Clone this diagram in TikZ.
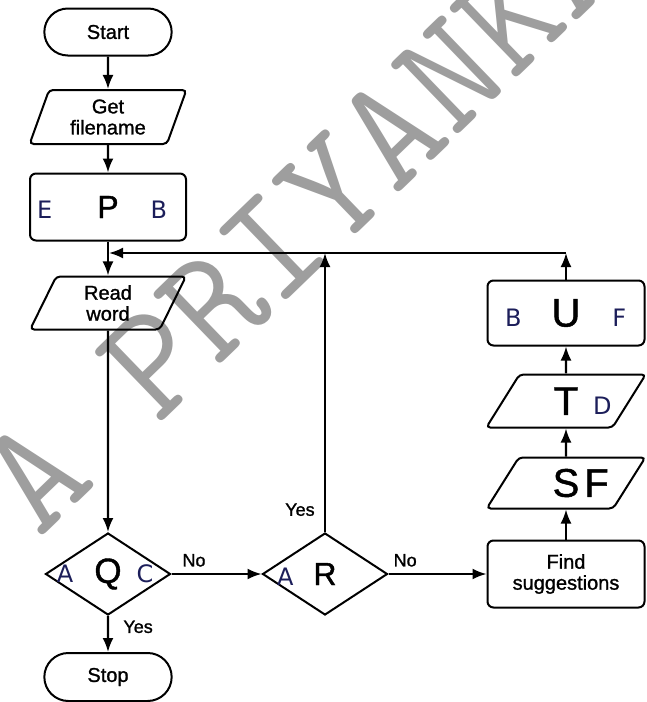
\documentclass[tikz,border=0pt]{standalone}
\usepackage{fontspec}
\setmainfont{Liberation Sans}[FakeBold=1.2]
\newfontfamily\hwfont{DejaVu Sans}
\usetikzlibrary{arrows.meta,shapes.geometric,shapes.misc}
\definecolor{hwink}{RGB}{28,30,90}
\definecolor{wmgray}{RGB}{158,158,158}
\newcommand{\hw}{\hwfont\fontsize{24}{24}\selectfont\color{hwink}}
\newcommand{\lmark}[2]{\makebox[0pt][r]{{\hw #1}\hspace{#2}}}
\newcommand{\rmark}[2]{\makebox[0pt][l]{\hspace{#2}{\hw #1}}}

\begin{document}
\begin{tikzpicture}[x=1pt,y=-1pt,
    every node/.style={font=\fontsize{20}{21}\selectfont,align=center},
    arr/.style={line width=2.1pt,-{Latex[length=14pt,width=11pt]}},
    term/.style={draw,line width=2pt,rounded rectangle,minimum width=134pt,minimum height=47pt},
    io/.style={draw,line width=2pt,trapezium,trapezium left angle=72,trapezium right angle=108,
        trapezium stretches=true,rounded corners=4pt,minimum width=157pt,minimum height=54pt},
    proc/.style={draw,line width=2pt,rectangle,rounded corners=6pt,minimum width=156pt,minimum height=66pt},
    dec/.style={draw,line width=2pt,diamond,aspect=1.5,inner sep=0pt,minimum width=125pt,minimum height=82pt},
    big/.style={font=\fontsize{#1}{#1}\selectfont},
    lbl/.style={font=\fontsize{18}{18}\selectfont}]
    \useasboundingbox (0,0) rectangle (646,702);
    \node[wmgray,font=\ttfamily\addfontfeature{FakeBold=8}\fontsize{160}{160}\selectfont,rotate=44] (wm) at (302,218) {A PRIYANKA};

    \node[term] (start) at (108,32) {Start};
    \node[io] (getfile) at (108,117) {Get\\filename};
    \node[proc,minimum height=67pt,big=32] (epb) at (108,207) {\lmark{E}{45pt}P\rmark{B}{32pt}};
    \coordinate (join) at (109,253);
    \node[io,minimum height=53pt] (readw) at (108,303) {Read\\word};
    \node[dec,big=35] (q) at (108,574) {\lmark{A}{21pt}Q\rmark{C}{15pt}};
    \node[term,minimum height=48pt] (stop) at (108,677) {Stop};
    \node[dec,big=32] (r) at (325,574) {\lmark{A}{20pt}R};
    \node[proc,minimum width=157pt,minimum height=67pt] (find) at (566,574) {Find\\suggestions};
    \node[io,minimum width=159pt,minimum height=51pt,big=40] (sf) at (566,483) {S\makebox[0pt][l]{\hspace{5pt}F}};
    \node[io,minimum width=160pt,minimum height=53pt,big=40] (td) at (566,401) {T\rmark{D}{15pt}};
    \node[proc,minimum width=157pt,minimum height=65pt,big=40] (buf) at (566,313) {\lmark{B}{30pt}U\rmark{F}{32pt}};
    \coordinate (rup) at (325,253);
    \coordinate (bufup) at (566,253);

    \draw[arr] (start) -- (getfile);
    \draw[arr] (getfile) -- (epb);
    \draw[arr] (epb) -- (readw);
    \draw[arr] (readw) -- (q);
    \draw[arr] (q) -- (stop) node[lbl,pos=0.3,right=11pt] {Yes};
    \draw[arr] (q) -- (r) node[lbl,pos=0.25,above=3pt] {No};
    \draw[arr] (r) -- (find) node[lbl,pos=0.17,above=3pt] {No};
    \draw[arr] (r) -- (rup) node[lbl,pos=0.08,left=6pt] {Yes};
    \draw[arr] (find) -- (sf);
    \draw[arr] (sf) -- (td);
    \draw[arr] (td) -- (buf);
    \draw[arr] (buf) -- (bufup);
    \draw[arr] (bufup) -- (join);
\end{tikzpicture}
\end{document}
